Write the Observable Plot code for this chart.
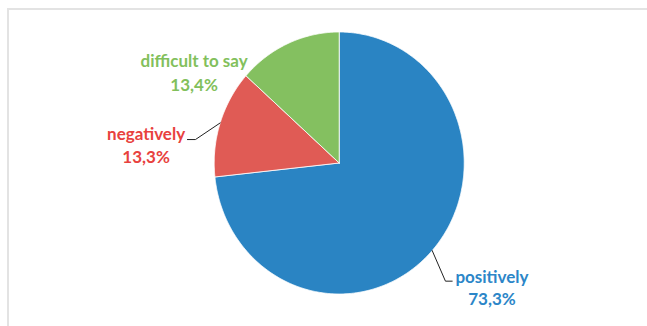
<!DOCTYPE html>
<html>
<head>
<meta charset="utf-8">
<script src="https://cdn.jsdelivr.net/npm/d3@7"></script>
<script src="https://cdn.jsdelivr.net/npm/@observablehq/plot@0.6"></script>
<style>
  html, body { margin: 0; padding: 0; background: #fff; }
  #wrap { position: relative; width: 647px; height: 326px; overflow: hidden; }
  #frame { position: absolute; left: 7px; top: 8px; width: 700px; height: 400px;
           border-top: 2px solid #e3e3e3; border-left: 2px solid #e3e3e3; box-sizing: border-box; }
  #chart { position: absolute; left: 0; top: 0; }
</style>
</head>
<body>
<div id="wrap"><div id="frame"></div><div id="chart"></div></div>
<script>
// ---- data ----
const categories = ["positively", "negatively", "difficult to say"];
const shares = [73.3, 13.3, 13.4];
const sliceColors = ["#2a84c3", "#e05b55", "#84c060"];
const textColors = ["#2b86c8", "#e8413e", "#82c05c"];

// ---- layout (pie geometry in pixels, label placement in unit-circle coords) ----
const W = 647, H = 326;
const cx = 338.7, cy = 162.5, rx = 125, ry = 131;
// label centres (unit coords) and optional leader elbows
const labelLayout = {
  "difficult to say": {x: -1.161, y1: 0.775, y2: 0.592, leader: null},
  "negatively": {x: -1.545, y1: 0.215, y2: 0.043, leader: [[-1.150, 0.179], [-1.214, 0.179]]},
  "positively": {x: 1.222, y1: -0.872, y2: -1.042, leader: [[0.850, -0.902], [0.904, -0.902]]}
};

const fmt = v => v.toFixed(1).replace(".", ",") + "%";
const rows = categories.map((c, i) => ({category: c, value: shares[i], fill: sliceColors[i], text: textColors[i]}));
const arcs = d3.pie().sort(null).value(d => d.value)(rows);

// slice polygons from pie angles (clockwise from 12 o'clock)
const polyPts = [];
arcs.forEach(a => {
  const key = a.data.category;
  polyPts.push({key, x: 0, y: 0, fill: a.data.fill});
  const n = Math.max(2, Math.ceil((a.endAngle - a.startAngle) / (Math.PI / 360)));
  for (let k = 0; k <= n; k++) {
    const t = a.startAngle + (a.endAngle - a.startAngle) * k / n;
    polyPts.push({key, x: Math.sin(t), y: Math.cos(t), fill: a.data.fill});
  }
  polyPts.push({key, x: 0, y: 0, fill: a.data.fill});
});

// leader lines start at slice mid-angle on the rim
const leaderPts = [];
arcs.forEach(a => {
  const L = labelLayout[a.data.category];
  if (!L.leader) return;
  const m = (a.startAngle + a.endAngle) / 2;
  const key = a.data.category;
  leaderPts.push({key, x: Math.sin(m), y: Math.cos(m)});
  L.leader.forEach(([x, y]) => leaderPts.push({key, x, y}));
});

const labels = [];
arcs.forEach(a => {
  const L = labelLayout[a.data.category];
  labels.push({x: L.x, y: L.y1, t: a.data.category, c: a.data.text});
  labels.push({x: L.x, y: L.y2, t: fmt(a.data.value), c: a.data.text});
});

const plot = Plot.plot({
  width: W, height: H,
  margin: 0,
  style: {background: "transparent", fontFamily: "Lato, 'Open Sans', sans-serif"},
  x: {domain: [-cx / rx, (W - cx) / rx], axis: null},
  y: {domain: [-(H - cy) / ry, cy / ry], axis: null},
  marks: [
    Plot.line(polyPts, {x: "x", y: "y", z: "key", fill: "fill", stroke: "white", strokeWidth: 0.8, curve: "linear"}),
    Plot.line(leaderPts, {x: "x", y: "y", z: "key", stroke: "#222", strokeWidth: 1}),
    Plot.text(labels, {x: "x", y: "y", text: "t", fill: "c", fontSize: 17, fontWeight: "bold", textAnchor: "middle"})
  ]
});
document.getElementById("chart").appendChild(plot);
</script>
</body>
</html>
